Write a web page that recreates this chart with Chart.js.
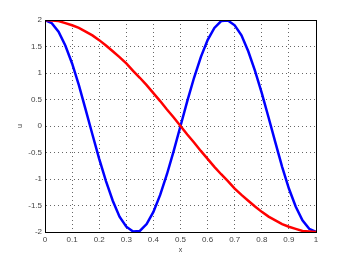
<!DOCTYPE html>
<html>
<head>
<meta charset="utf-8">
<script src="https://cdn.jsdelivr.net/npm/chart.js@4"></script>
<style>
  html, body { margin: 0; padding: 0; background: #fff; }
  #wrap { width: 349px; height: 261px; }
</style>
</head>
<body>
<div id="wrap"><canvas id="myChart" width="349" height="261"></canvas></div>
<script>
// x positions of the sampled points
const xValues = [0, 0.025, 0.05, 0.075, 0.1, 0.125, 0.15, 0.175, 0.2, 0.225, 0.25, 0.275, 0.3, 0.325, 0.35, 0.375, 0.4, 0.425, 0.45, 0.475, 0.5,
    0.525, 0.55, 0.575, 0.6, 0.625, 0.65, 0.675, 0.7, 0.725, 0.75, 0.775, 0.8, 0.825, 0.85, 0.875, 0.9, 0.925, 0.95, 0.975, 1];

// red curve
const redU = [2, 1.99, 1.98, 1.94, 1.90, 1.85, 1.78, 1.71, 1.62, 1.52, 1.41, 1.30, 1.18, 1.04, 0.91, 0.77, 0.62, 0.47, 0.31, 0.16, 0,
    -0.16, -0.31, -0.47, -0.62, -0.77, -0.91, -1.04, -1.18, -1.30, -1.41, -1.52, -1.62, -1.71, -1.78, -1.85, -1.90, -1.94, -1.98, -1.99, -2];

// blue curve
const blueU = [2, 1.94, 1.78, 1.52, 1.18, 0.77, 0.31, -0.16, -0.62, -1.04, -1.41, -1.71, -1.90, -1.99, -1.98, -1.85, -1.62, -1.30, -0.91, -0.47, 0,
    0.47, 0.91, 1.30, 1.62, 1.85, 1.98, 1.99, 1.90, 1.71, 1.41, 1.04, 0.62, 0.16, -0.31, -0.77, -1.18, -1.52, -1.78, -1.94, -2];

const xTicks = [0, 0.1, 0.2, 0.3, 0.4, 0.5, 0.6, 0.7, 0.8, 0.9, 1];
const yTicks = [-2, -1.5, -1, -0.5, 0, 0.5, 1, 1.5, 2];

// box around the plot area, like matlab
const boxPlugin = {
    id: 'box',
    afterDraw(chart) {
        const a = chart.chartArea;
        const c = chart.ctx;
        c.save();
        c.strokeStyle = '#000';
        c.lineWidth = 1;
        c.strokeRect(Math.round(a.left) + 0.5, Math.round(a.top) + 0.5, Math.round(a.right - a.left), Math.round(a.bottom - a.top));
        c.restore();
    }
};

const tickFont = { family: 'Liberation Sans', size: 8 };

var ctx = document.getElementById('myChart').getContext('2d');
var myChart = new Chart(ctx, {
    type: 'line',
    data: {
        datasets: [{
            label: 'red',
            data: xValues.map((x, i) => ({ x: x, y: redU[i] })),
            borderColor: '#ff0000',
            borderWidth: 2.5,
            pointRadius: 0,
            tension: 0
        }, {
            label: 'blue',
            data: xValues.map((x, i) => ({ x: x, y: blueU[i] })),
            borderColor: '#0000ff',
            borderWidth: 2.5,
            pointRadius: 0,
            tension: 0
        }]
    },
    options: {
        responsive: false,
        animation: false,
        layout: { padding: { top: 20, right: 33, left: 0, bottom: 0 } },
        plugins: {
            legend: { display: false },
            tooltip: { enabled: false }
        },
        scales: {
            x: {
                type: 'linear',
                min: 0,
                max: 1,
                afterBuildTicks: axis => { axis.ticks = xTicks.map(v => ({ value: v })); },
                afterFit: axis => { axis.height = 29; },
                ticks: { font: tickFont, color: '#444', padding: 3, maxRotation: 0, callback: v => String(v) },
                grid: { color: '#666', drawTicks: false },
                border: { dash: [1, 3], color: '#000' },
                title: { display: true, text: 'x', font: { family: 'Liberation Sans', size: 7 }, color: '#444', padding: { top: 0, bottom: 7 } }
            },
            y: {
                min: -2,
                max: 2,
                afterBuildTicks: axis => { axis.ticks = yTicks.map(v => ({ value: v })); },
                afterFit: axis => { axis.width = 45; },
                ticks: { font: tickFont, color: '#444', padding: 3, callback: v => String(v) },
                grid: { color: '#666', drawTicks: false },
                border: { dash: [1, 3], color: '#000' },
                title: { display: true, text: 'u', font: { family: 'Liberation Sans', size: 7 }, color: '#444', padding: { top: 16, bottom: 0 } }
            }
        }
    },
    plugins: [boxPlugin]
});
</script>
</body>
</html>
